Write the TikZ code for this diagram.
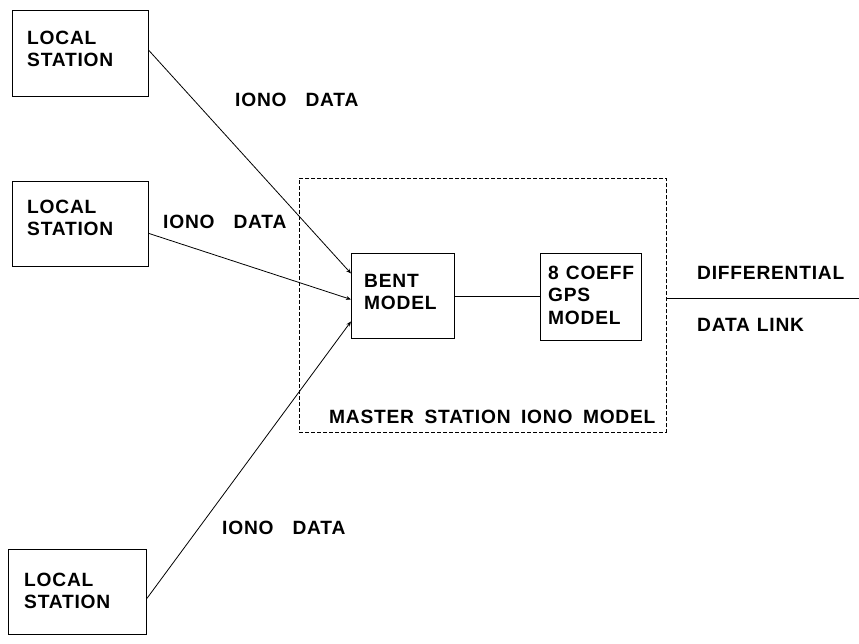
\documentclass[tikz,border=0pt]{standalone}
\usepackage{fontspec}
\setmainfont{Liberation Sans}[LetterSpace=4]
\usetikzlibrary{arrows.meta}
\begin{document}
\begin{tikzpicture}[x=1pt,y=-1pt,
  box/.style={draw, line width=0.9pt, inner sep=0pt, anchor=north west},
  txt/.style={inner sep=0pt, anchor=west, align=left,
    font=\fontsize{19.2}{22.5}\selectfont\bfseries},
  conn/.style={line width=0.8pt},
  arr/.style={conn, -{Stealth[length=5pt,width=4pt]}},
  dashbox/.style={draw, line width=0.8pt, dash pattern=on 4pt off 2pt, inner sep=0pt, anchor=north west}
]
\useasboundingbox (0,0) rectangle (859,644);
% boxes
\node[box, minimum width=136pt, minimum height=86pt] (ls1) at (12,10) {};
\node[box, minimum width=136pt, minimum height=85pt] (ls2) at (12,181) {};
\node[box, minimum width=138pt, minimum height=85pt] (ls3) at (8,549) {};
\node[dashbox, minimum width=367pt, minimum height=254pt] (master) at (299,178) {};
\node[box, minimum width=103pt, minimum height=85pt] (bent) at (351,253) {};
\node[box, minimum width=101pt, minimum height=87pt] (gps) at (540,253) {};
% texts
\node[txt] (ls1t) at (27,49) {LOCAL\\STATION};
\node[txt] (ls2t) at (27,218) {LOCAL\\STATION};
\node[txt] (ls3t) at (24,591) {LOCAL\\STATION};
\node[txt] (bentt) at (364,292) {BENT\\MODEL};
\node[txt] (gpst) at (548,295) {8\hspace{7pt}COEFF\\GPS\\MODEL};
\node[txt] (io1) at (235,100) {IONO\hspace{19pt}DATA};
\node[txt] (io2) at (163,222) {IONO\hspace{19pt}DATA};
\node[txt] (io3) at (222,528) {IONO\hspace{19pt}DATA};
\node[txt] (mst) at (329,417) {MASTER\hspace{10.5pt}STATION\hspace{10.5pt}IONO\hspace{10.5pt}MODEL};
\node[txt] (diff) at (697,273) {DIFFERENTIAL};
\node[txt] (dl) at (697,325) {DATA\hspace{7pt}LINK};
% connectors
\draw[arr] ([yshift=3pt]ls1.east) -- ([yshift=22.5pt]bent.west);
\draw[arr] ([yshift=-9.5pt]ls2.east) -- ([yshift=-3.5pt]bent.west);
\draw[arr] ([yshift=-6.5pt]ls3.east) -- ([yshift=-25.5pt]bent.west);
\draw[conn] (bent.east) -- (bent.east -| gps.west);
\coordinate (outend) at (859,298);
\draw[conn] (master.east |- outend) -- (outend);
\end{tikzpicture}
\end{document}
